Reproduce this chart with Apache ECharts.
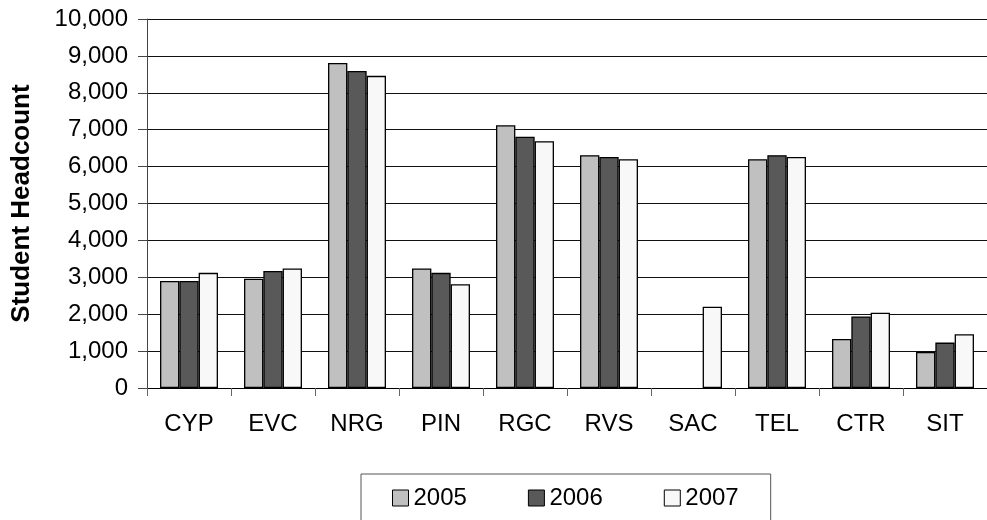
<!DOCTYPE html>
<html>
<head>
<meta charset="utf-8">
<script src="https://cdn.jsdelivr.net/npm/echarts@6/dist/echarts.min.js"></script>
<style>
html,body{margin:0;padding:0;background:#fff;}
#chart{width:987px;height:520px;}
</style>
</head>
<body>
<div id="chart"></div>
<script>
const categories = ['CYP','EVC','NRG','PIN','RGC','RVS','SAC','TEL','CTR','SIT'];
const seriesNames = ['2005','2006','2007'];
const values2005 = [2900, 2960, 8810, 3240, 7120, 6310, null, 6200, 1330, 980];
const values2006 = [2900, 3170, 8590, 3120, 6810, 6260, null, 6310, 1940, 1230];
const values2007 = [3120, 3240, 8460, 2810, 6690, 6200, 2200, 6260, 2040, 1460];
const yTicks = {min: 0, max: 10000, interval: 1000};
const colors = ['#c0c0c0', '#595959', '#f8f8f8'];

const font = '"Liberation Sans", Arial, sans-serif';
const data = [values2005, values2006, values2007];

const chart = echarts.init(document.getElementById('chart'), null, {renderer: 'canvas'});
chart.setOption({
  animation: false,
  backgroundColor: '#ffffff',
  textStyle: {fontFamily: font},
  grid: {left: 147, right: 0, top: 19, bottom: 132, containLabel: false},
  legend: {
    left: 361, top: 474,
    orient: 'horizontal',
    padding: [12, 32, 12, 31],
    itemGap: 61,
    itemWidth: 16, itemHeight: 16,
    borderColor: '#555', borderWidth: 1,
    icon: 'rect',
    textStyle: {fontFamily: font, fontSize: 24, color: '#000'},
    itemStyle: {borderColor: '#000', borderWidth: 1},
    data: seriesNames
  },
  xAxis: {
    type: 'category',
    data: categories,
    axisLine: {lineStyle: {color: '#000', width: 1}},
    axisTick: {show: true, alignWithLabel: false, length: 8, lineStyle: {color: '#666'}},
    axisLabel: {fontFamily: font, fontSize: 24, color: '#000', margin: 24, interval: 0}
  },
  yAxis: {
    type: 'value',
    min: yTicks.min, max: yTicks.max, interval: yTicks.interval,
    name: 'Student Headcount',
    nameLocation: 'middle',
    nameGap: 112,
    nameRotate: 90,
    nameTextStyle: {fontFamily: font, fontSize: 26, fontWeight: 'bold', color: '#000'},
    axisLine: {show: true, lineStyle: {color: '#444', width: 1}},
    axisTick: {show: true, length: 9, lineStyle: {color: '#444'}},
    axisLabel: {fontFamily: font, fontSize: 24, color: '#000', margin: 19,
      formatter: v => v.toLocaleString('en-US')},
    splitLine: {show: true, lineStyle: {color: '#111', width: 1}}
  },
  series: seriesNames.map((n, i) => ({
    name: n,
    type: 'bar',
    data: data[i],
    barGap: '0%',
    barCategoryGap: '31%',
    itemStyle: {color: colors[i], borderColor: '#000', borderWidth: 1.3}
  }))
});
</script>
</body>
</html>
